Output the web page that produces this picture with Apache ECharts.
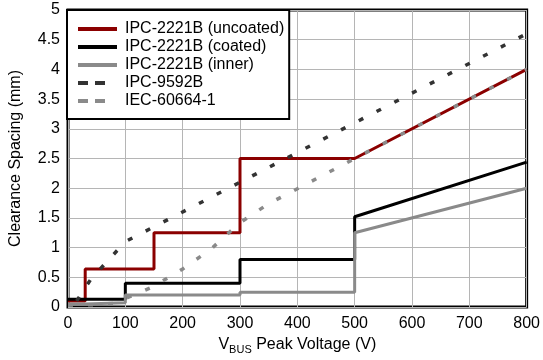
<!DOCTYPE html>
<html>
<head>
<meta charset="utf-8">
<script src="https://cdn.jsdelivr.net/npm/echarts@6/dist/echarts.min.js"></script>
<style>
  html, body { margin: 0; padding: 0; background: #fff; }
  #chart { width: 543px; height: 360px; }
</style>
</head>
<body>
<div id="chart"></div>
<script>
// clearance vs peak voltage
const uncoatedV  = [0, 30, 30, 150, 150, 300, 300, 500, 800];
const uncoatedMm = [0.1, 0.1, 0.64, 0.64, 1.25, 1.25, 2.5, 2.5, 4.0];

const coatedV  = [0, 100, 100, 300, 300, 500, 500, 800];
const coatedMm = [0.13, 0.13, 0.4, 0.4, 0.8, 0.8, 1.52, 2.44];

const innerV  = [0, 30, 30, 100, 100, 300, 300, 500, 500, 800];
const innerMm = [0.05, 0.05, 0.07, 0.07, 0.2, 0.2, 0.25, 0.25, 1.25, 2.0];

const ipc9592V  = [15, 40, 100, 800];
const ipc9592Mm = [0.1, 0.47, 1.1, 4.6];

const iecV  = [0, 50, 80, 100, 150, 200, 250, 300, 350, 400, 500, 800];
const iecMm = [0.03, 0.04, 0.06, 0.14, 0.35, 0.64, 0.98, 1.42, 1.74, 1.99, 2.5, 4.0];

const seriesNames = ['IPC-2221B (uncoated)', 'IPC-2221B (coated)', 'IPC-2221B (inner)', 'IPC-9592B', 'IEC-60664-1'];

const xTicks = [0, 100, 200, 300, 400, 500, 600, 700, 800];
const yTicks = [0, 0.5, 1, 1.5, 2, 2.5, 3, 3.5, 4, 4.5, 5];

function pairs(xs, ys) {
    return xs.map(function (x, i) { return [x, ys[i]]; });
}

const FONT = 'Liberation Sans, Arial, sans-serif';

function lineSeries(name, xs, ys, color, dashed) {
    return {
        name: name,
        type: 'line',
        data: pairs(xs, ys),
        symbol: 'none',
        silent: true,
        animation: false,
        lineStyle: {
            color: color,
            width: dashed ? 3.5 : 3,
            type: dashed ? [5, 15] : 'solid',
            cap: 'butt'
        },
        itemStyle: { color: color }
    };
}

// legend samples: two short dashes for the dashed ones
function legendItem(name, color, dashed) {
    return {
        name: name,
        itemStyle: { opacity: 0 },
        lineStyle: { color: color, width: 4, type: dashed ? [10, 7, 10, 30] : 'solid', cap: 'butt' }
    };
}

const chart = echarts.init(document.getElementById('chart'), null, { renderer: 'canvas' });

chart.setOption({
    backgroundColor: '#fff',
    animation: false,
    grid: { left: 67, right: 15, top: 10, bottom: 50, show: true, borderColor: '#000', borderWidth: 3 },
    xAxis: {
        type: 'value',
        min: xTicks[0],
        max: xTicks[xTicks.length - 1],
        interval: 100,
        name: '{a|V}{sub|BUS}{a| Peak Voltage (V)}',
        nameLocation: 'middle',
        nameGap: 28,
        nameTextStyle: {
            rich: {
                a: { fontFamily: FONT, fontSize: 16, color: '#000', lineHeight: 20, verticalAlign: 'middle' },
                sub: { fontFamily: FONT, fontSize: 11, color: '#000', lineHeight: 11, verticalAlign: 'bottom' }
            }
        },
        axisLine: { show: false },
        axisTick: { show: false },
        axisLabel: { fontFamily: FONT, fontSize: 16, color: '#000', margin: 9 },
        splitLine: { show: true, lineStyle: { color: '#b5b5b5', width: 1 } }
    },
    yAxis: {
        type: 'value',
        min: yTicks[0],
        max: yTicks[yTicks.length - 1],
        interval: 0.5,
        name: 'Clearance Spacing (mm)',
        nameLocation: 'middle',
        nameGap: 44,
        nameTextStyle: { fontFamily: FONT, fontSize: 16, color: '#000' },
        axisLine: { show: false },
        axisTick: { show: false },
        axisLabel: { fontFamily: FONT, fontSize: 16, color: '#000', margin: 8 },
        splitLine: { show: true, lineStyle: { color: '#b5b5b5', width: 1 } }
    },
    legend: {
        data: [
            legendItem(seriesNames[0], '#8b0000', false),
            legendItem(seriesNames[1], '#000000', false),
            legendItem(seriesNames[2], '#8a8a8a', false),
            legendItem(seriesNames[3], '#333333', true),
            legendItem(seriesNames[4], '#8a8a8a', true)
        ],
        orient: 'vertical',
        left: 67,
        top: 10,
        padding: [11, 5, 10, 9],
        itemGap: 2,
        itemWidth: 39,
        itemHeight: 4,
        backgroundColor: '#fff',
        borderColor: '#000',
        borderWidth: 2,
        borderRadius: 0,
        selectedMode: false,
        textStyle: { fontFamily: FONT, fontSize: 16, color: '#000', lineHeight: 16, padding: [0, 0, 0, 3] }
    },
    series: [
        lineSeries(seriesNames[0], uncoatedV, uncoatedMm, '#8b0000', false),
        lineSeries(seriesNames[1], coatedV, coatedMm, '#000000', false),
        lineSeries(seriesNames[2], innerV, innerMm, '#8a8a8a', false),
        lineSeries(seriesNames[3], ipc9592V, ipc9592Mm, '#333333', true),
        lineSeries(seriesNames[4], iecV, iecMm, '#8a8a8a', true)
    ]
});
</script>
</body>
</html>
